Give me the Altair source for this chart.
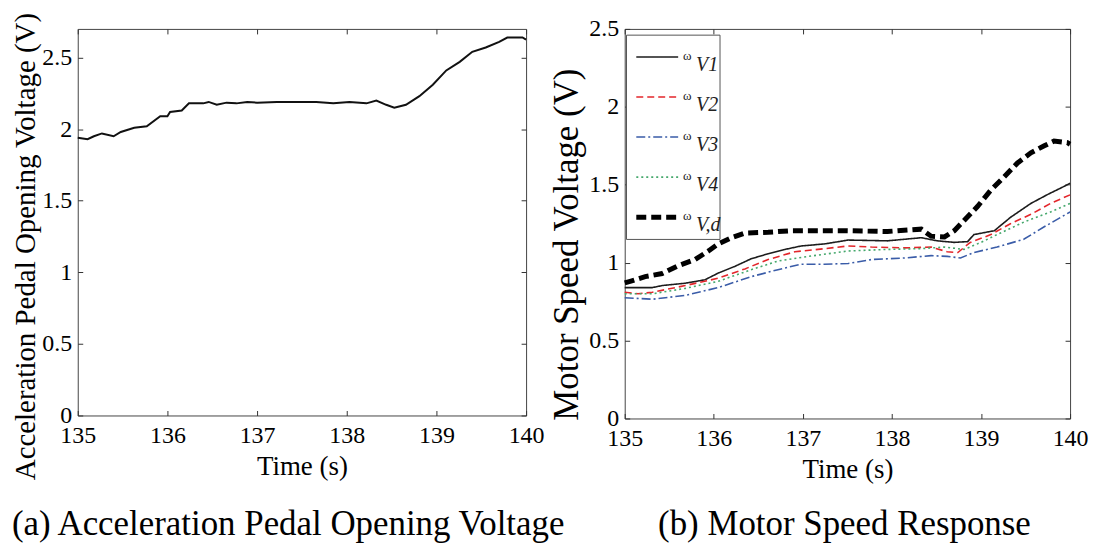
import altair as alt
import pandas as pd

FONT = "Liberation Serif"

# ---------------- (a) Acceleration pedal opening voltage ----------------
t_a = [135.0, 135.11, 135.18, 135.27, 135.40, 135.48, 135.63, 135.77, 135.92, 136.0,
       136.03, 136.16, 136.24, 136.40, 136.46, 136.55, 136.66, 136.77, 136.89, 137.0,
       137.22, 137.5, 137.66, 137.85, 138.03, 138.22, 138.33, 138.44, 138.53, 138.66,
       138.81, 138.96, 139.11, 139.26, 139.40, 139.55, 139.70, 139.79, 139.96, 140.0]
v_a = [1.94, 1.93, 1.95, 1.97, 1.95, 1.98, 2.01, 2.02, 2.09, 2.09,
       2.12, 2.13, 2.18, 2.18, 2.19, 2.17, 2.185, 2.18, 2.19, 2.185,
       2.19, 2.19, 2.19, 2.18, 2.19, 2.18, 2.20, 2.17, 2.15, 2.17,
       2.23, 2.31, 2.41, 2.47, 2.54, 2.57, 2.61, 2.64, 2.64, 2.625]

# ---------------- (b) Motor speed response ----------------
t_v1 = [135.0, 135.31, 135.42, 135.68, 135.90, 136.05, 136.24, 136.42, 136.61, 136.80,
        136.98, 137.24, 137.51, 137.95, 138.33, 138.51, 138.70, 138.85, 138.92, 139.15,
        139.33, 139.56, 139.74, 139.97, 140.0]
v_v1 = [0.84, 0.84, 0.853, 0.868, 0.89, 0.933, 0.977, 1.025, 1.057, 1.085,
        1.107, 1.12, 1.145, 1.14, 1.16, 1.14, 1.13, 1.135, 1.18, 1.205,
        1.29, 1.38, 1.435, 1.50, 1.51]

t_v2 = [135.0, 135.15, 135.31, 135.68, 136.05, 136.35, 136.61, 136.91, 137.17, 137.51,
        137.77, 138.14, 138.44, 138.62, 138.74, 138.88, 139.11, 139.33, 139.56, 139.78, 140.0]
v_v2 = [0.81, 0.80, 0.81, 0.853, 0.90, 0.96, 1.02, 1.07, 1.085, 1.107,
        1.10, 1.095, 1.10, 1.07, 1.065, 1.13, 1.18, 1.25, 1.31, 1.38, 1.435]

t_v3 = [135.0, 135.31, 135.68, 136.05, 136.42, 136.72, 136.98, 137.24, 137.51, 137.77,
        138.14, 138.44, 138.62, 138.77, 138.92, 139.18, 139.48, 139.71, 140.0]
v_v3 = [0.775, 0.765, 0.79, 0.84, 0.91, 0.955, 0.99, 0.99, 0.995, 1.02,
        1.03, 1.045, 1.04, 1.03, 1.065, 1.10, 1.15, 1.23, 1.325]

t_v4 = [135.0, 135.31, 135.68, 136.05, 136.42, 136.72, 137.06, 137.51, 137.95, 138.33,
        138.59, 138.81, 139.0, 139.18, 139.48, 139.78, 140.0]
v_v4 = [0.80, 0.80, 0.835, 0.88, 0.955, 1.01, 1.04, 1.075, 1.085, 1.09,
        1.10, 1.085, 1.13, 1.18, 1.26, 1.325, 1.38]

t_vd = [135.0, 135.06, 135.23, 135.42, 135.60, 135.79, 135.94, 136.05, 136.20, 136.35,
        136.61, 136.87, 137.17, 137.47, 137.95, 138.33, 138.44, 138.59, 138.70, 138.81,
        138.96, 139.11, 139.26, 139.41, 139.56, 139.71, 139.82, 139.97, 140.0]
v_vd = [0.87, 0.88, 0.91, 0.93, 0.98, 1.02, 1.075, 1.12, 1.16, 1.19,
        1.195, 1.205, 1.205, 1.205, 1.20, 1.215, 1.17, 1.165, 1.205, 1.27,
        1.36, 1.465, 1.55, 1.64, 1.705, 1.75, 1.78, 1.77, 1.76]

series_keys = ["V1", "V2", "V3", "V4", "Vd"]
legend_subs = ["V1", "V2", "V3", "V4", "V,d"]
series_colors = ["#1c1c1c", "#e3262b", "#3a5ca8", "#45a86c", "#000000"]
series_dashes = [[1, 0], [7, 4], [9, 3, 2, 3], [2, 3], [10, 5]]
series_widths = [1.6, 1.6, 1.6, 1.6, 5.0]

x_ticks = [135, 136, 137, 138, 139, 140]
y_ticks = [0, 0.5, 1, 1.5, 2, 2.5]

caption_a = "(a) Acceleration Pedal Opening Voltage"
caption_b = "(b) Motor Speed Response"

# ---------------- build ----------------
df_a = pd.DataFrame({"t": t_a, "v": v_a})
width_of = dict(zip(series_keys, series_widths))

rows = []
for key, ts, vs in zip(series_keys, [t_v1, t_v2, t_v3, t_v4, t_vd],
                       [v_v1, v_v2, v_v3, v_v4, v_vd]):
    for t, v in zip(ts, vs):
        rows.append({"t": t, "v": v, "series": key, "w": width_of[key]})
df_b = pd.DataFrame(rows)


def bottom_axis():
    return alt.Axis(values=x_ticks, format="d", title="Time (s)", offset=-5,
                    labelPadding=8, titlePadding=6, titleFontSize=27, labelFlush=False)


def left_axis(title, size, title_y, title_pad):
    return alt.Axis(values=y_ticks, format="~g", title=title, offset=-5,
                    labelPadding=6, titlePadding=title_pad, titleFontSize=size, titleY=title_y,
                    labelFlush=False)


def mirror_layer(data, xs, ys):
    return alt.Chart(data).mark_line(opacity=0).encode(
        x=alt.X("t:Q", scale=xs, axis=alt.Axis(orient="top", values=x_ticks, labels=False,
                                                title=None, offset=-5)),
        y=alt.Y("v:Q", scale=ys, axis=alt.Axis(orient="right", values=y_ticks, labels=False,
                                                title=None, offset=-5)),
    )


xs_a = alt.Scale(domain=[135, 140], nice=False, zero=False)
ys_a = alt.Scale(domain=[0, 2.7], nice=False)

line_a = alt.Chart(df_a).mark_line(color="#111111", strokeWidth=2).encode(
    x=alt.X("t:Q", scale=xs_a, axis=bottom_axis()),
    y=alt.Y("v:Q", scale=ys_a,
            axis=left_axis("Acceleration Pedal Opening Voltage (V)", 29, 218, 1)),
)

chart_a = alt.layer(line_a, mirror_layer(df_a, xs_a, ys_a)).resolve_axis(
    x="independent", y="independent"
).properties(
    width=450, height=388,
    title=alt.TitleParams(caption_a, orient="bottom", anchor="start", frame="bounds",
                          font=FONT, fontSize=35, fontWeight="normal", color="black",
                          offset=27),
)

xs_b = alt.Scale(domain=[135, 140], nice=False, zero=False)
ys_b = alt.Scale(domain=[0, 2.5], nice=False)
color_enc = alt.Color("series:N", scale=alt.Scale(domain=series_keys, range=series_colors), legend=None)
dash_enc = alt.StrokeDash("series:N", scale=alt.Scale(domain=series_keys, range=series_dashes), legend=None)
width_enc = alt.StrokeWidth("w:Q", scale=None, legend=None)

lines_b = alt.Chart(df_b).mark_line(strokeCap="butt").encode(
    x=alt.X("t:Q", scale=xs_b, axis=bottom_axis()),
    y=alt.Y("v:Q", scale=ys_b, axis=left_axis("Motor Speed Voltage (V)", 35, 216, 4)),
    color=color_enc, strokeDash=dash_enc, strokeWidth=width_enc,
    detail="series:N",
)

# legend (layout constants in data units of panel b)
LEG_X0, LEG_X1 = 135.02, 136.07
LEG_Y0, LEG_Y1 = 1.149, 2.46
SAMPLE_X0, SAMPLE_X1 = 135.13, 135.60
OMEGA_X, SUB_X = 135.655, 135.80
ROW_TOP, ROW_STEP = 2.32, 0.257

df_box = pd.DataFrame({"x0": [LEG_X0], "x1": [LEG_X1], "y0": [LEG_Y0], "y1": [LEG_Y1]})
df_leg = pd.DataFrame({
    "series": series_keys,
    "sub": legend_subs,
    "w": series_widths,
    "ly": [ROW_TOP - i * ROW_STEP for i in range(len(series_keys))],
    "sx0": [SAMPLE_X0] * len(series_keys),
    "sx1": [SAMPLE_X1] * len(series_keys),
    "ox": [OMEGA_X] * len(series_keys),
    "subx": [SUB_X] * len(series_keys),
})

box = alt.Chart(df_box).mark_rect(fill="white", stroke="#555555", strokeWidth=1).encode(
    x=alt.X("x0:Q", scale=xs_b, axis=None), x2="x1:Q",
    y=alt.Y("y0:Q", scale=ys_b, axis=None), y2="y1:Q",
)
leg_lines = alt.Chart(df_leg).mark_rule(strokeCap="butt").encode(
    x=alt.X("sx0:Q", scale=xs_b, axis=None), x2="sx1:Q",
    y=alt.Y("ly:Q", scale=ys_b, axis=None),
    color=color_enc, strokeDash=dash_enc, strokeWidth=width_enc,
)
leg_omega = alt.Chart(df_leg).mark_text(align="left", baseline="middle", font=FONT,
                                        fontSize=13, color="#222222", dy=-1).encode(
    x=alt.X("ox:Q", scale=xs_b, axis=None),
    y=alt.Y("ly:Q", scale=ys_b, axis=None),
    text=alt.value("ω"),
)
leg_sub = alt.Chart(df_leg).mark_text(align="left", baseline="middle", font=FONT,
                                      fontSize=20, fontStyle="italic", color="#222222",
                                      dy=8).encode(
    x=alt.X("subx:Q", scale=xs_b, axis=None),
    y=alt.Y("ly:Q", scale=ys_b, axis=None),
    text="sub:N",
)

chart_b = alt.layer(lines_b, mirror_layer(df_b, xs_b, ys_b), box, leg_lines, leg_omega, leg_sub).resolve_axis(
    x="independent", y="independent"
).properties(
    width=447, height=391,
    title=alt.TitleParams(caption_b, orient="bottom", anchor="middle", frame="group",
                          font=FONT, fontSize=35, fontWeight="normal", color="black",
                          offset=25, dx=-3),
)

chart = alt.hconcat(chart_a, chart_b, spacing=99, bounds="flush").properties(
    padding={"left": 3, "top": 2, "right": 0, "bottom": 0}
).configure(
    background="white"
).configure_view(
    stroke="#444444", strokeWidth=1
).configure_axis(
    labelFont=FONT, titleFont=FONT, labelFontSize=24, labelColor="black",
    titleColor="black", titleFontWeight="normal", grid=False, domain=False,
    tickColor="#333333", tickSize=5, tickWidth=1,
)

chart.save("out.html", embed_options={"renderer": "svg", "actions": False})
